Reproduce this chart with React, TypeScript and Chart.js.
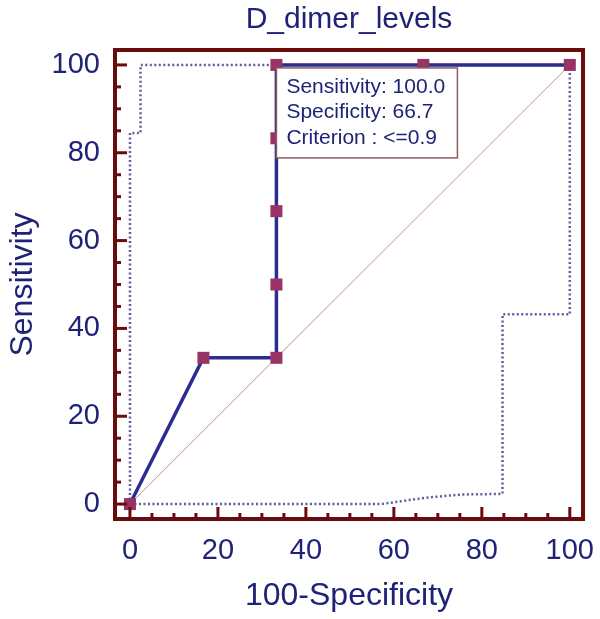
import React, { useEffect, useRef } from "react";
import { Chart, registerables } from "chart.js";

Chart.register(...registerables);

// ROC curve (100-Specificity, Sensitivity)
const rocX = [0, 16.7, 33.3, 33.3, 33.3, 33.3, 33.3, 66.7, 100];
const rocY = [0, 33.3, 33.3, 50, 66.7, 83.3, 100, 100, 100];
// diagonal reference
const diagX = [0, 100];
const diagY = [0, 100];
// confidence bounds
const upperX = [0, 0, 2.4, 2.4, 100];
const upperY = [0, 84.5, 84.5, 100, 100];
const lowerX = [0, 57, 60, 64, 68, 72, 76, 84.7, 84.7, 100, 100];
const lowerY = [0, 0, 0.4, 1.0, 1.5, 1.9, 2.2, 2.3, 43.2, 43.2, 100];
// axes
const tickValues = [0, 20, 40, 60, 80, 100];
const minorStep = 5;
const titleText = "D_dimer_levels";
const xTitle = "100-Specificity";
const yTitle = "Sensitivity";
const boxLines = ["Sensitivity: 100.0", "Specificity: 66.7", "Criterion : <=0.9"];
const criterionPoint = { x: 33.3, y: 100 };

const NAVY = "#1f2377";
const FRAME = "#6a0c0c";
const FONT = "'Liberation Sans', Arial, sans-serif";

const pts = (xs: number[], ys: number[]) => xs.map((x, i) => ({ x, y: ys[i] }));

const framePlugin = {
  id: "framePlugin",
  afterDatasetsDraw(chart: any) {
    const { ctx, chartArea, scales } = chart;
    const xs = scales.x;
    const ys = scales.y;
    ctx.save();
    // annotation box
    const bx = xs.getPixelForValue(criterionPoint.x);
    const by = ys.getPixelForValue(criterionPoint.y) + 3;
    const bw = 181;
    const bh = 90;
    ctx.fillStyle = "#ffffff";
    ctx.fillRect(bx, by, bw, bh);
    ctx.strokeStyle = "#8a5c5c";
    ctx.lineWidth = 1.5;
    ctx.strokeRect(bx, by, bw, bh);
    ctx.fillStyle = NAVY;
    ctx.font = `21px ${FONT}`;
    ctx.textBaseline = "middle";
    ctx.textAlign = "left";
    boxLines.forEach((t, i) => ctx.fillText(t, bx + 10, by + 19 + i * 25.5));

    // frame
    ctx.strokeStyle = FRAME;
    ctx.lineWidth = 4;
    ctx.strokeRect(chartArea.left, chartArea.top, chartArea.right - chartArea.left, chartArea.bottom - chartArea.top);
    // ticks
    ctx.lineWidth = 3;
    ctx.lineCap = "butt";
    for (let v = 0; v <= 100; v += minorStep) {
      const major = v % 20 === 0;
      const len = major ? 12 : 6;
      const px = xs.getPixelForValue(v);
      ctx.beginPath();
      ctx.moveTo(px, chartArea.bottom);
      ctx.lineTo(px, chartArea.bottom - len);
      ctx.stroke();
      const py = ys.getPixelForValue(v);
      ctx.beginPath();
      ctx.moveTo(chartArea.left, py);
      ctx.lineTo(chartArea.left + len, py);
      ctx.stroke();
    }
    // title
    ctx.fillStyle = NAVY;
    ctx.font = `30px ${FONT}`;
    ctx.textAlign = "center";
    ctx.textBaseline = "middle";
    ctx.fillText(titleText, (chartArea.left + chartArea.right) / 2, 20);
    ctx.restore();
  },
};

export default function App() {
  const ref = useRef<HTMLCanvasElement>(null);
  useEffect(() => {
    document.body.style.margin = "0";
    const canvas = ref.current!;
    const chart = new Chart(canvas, {
      type: "scatter",
      data: {
        datasets: [
          {
            data: pts(rocX, rocY),
            showLine: true,
            borderColor: "#2b2e8f",
            borderWidth: 3.5,
            pointStyle: "rect",
            pointRadius: 8.5,
            pointBackgroundColor: "#993366",
            pointBorderWidth: 0,
            order: 0,
          },
          {
            data: pts(diagX, diagY),
            showLine: true,
            borderColor: "#c48d8d",
            borderWidth: 1,
            pointRadius: 0,
            order: 3,
          },
          {
            data: pts(upperX, upperY),
            showLine: true,
            borderColor: "#5a5e9e",
            borderWidth: 2.5,
            borderDash: [2, 2.5],
            pointRadius: 0,
            order: 2,
          },
          {
            data: pts(lowerX, lowerY),
            showLine: true,
            borderColor: "#5a5e9e",
            borderWidth: 2.5,
            borderDash: [2, 2.5],
            pointRadius: 0,
            order: 2,
          },
        ],
      },
      options: {
        animation: false,
        responsive: false,
        layout: { padding: { top: 50, right: 17, left: 0, bottom: 0 } },
        plugins: { legend: { display: false }, tooltip: { enabled: false }, title: { display: false } },
        scales: {
          x: {
            type: "linear",
            min: -3.4,
            max: 103.0,
            grid: { display: false, drawTicks: false },
            border: { display: false },
            afterBuildTicks: (s: any) => {
              s.ticks = tickValues.map((v) => ({ value: v }));
            },
            afterFit: (s: any) => {
              s.height = 100;
              s.paddingLeft = 0;
              s.paddingRight = 0;
            },
            ticks: {
              color: NAVY,
              font: { family: FONT, size: 29 },
              padding: 15,
              maxRotation: 0,
              autoSkip: false,
            },
            title: {
              display: true,
              text: xTitle,
              color: NAVY,
              font: { family: FONT, size: 32 },
              padding: { top: 0, bottom: 4 },
            },
          },
          y: {
            type: "linear",
            min: -3.4,
            max: 103.4,
            grid: { display: false, drawTicks: false },
            border: { display: false },
            afterBuildTicks: (s: any) => {
              s.ticks = tickValues.map((v) => ({ value: v }));
            },
            afterFit: (s: any) => {
              s.width = 115;
              s.paddingTop = 0;
              s.paddingBottom = 0;
            },
            ticks: {
              color: NAVY,
              font: { family: FONT, size: 29 },
              padding: 15,
              autoSkip: false,
            },
            title: {
              display: true,
              text: yTitle,
              color: NAVY,
              font: { family: FONT, size: 32 },
              padding: { top: 4, bottom: 0 },
            },
          },
        },
      },
      plugins: [framePlugin],
    });
    return () => chart.destroy();
  }, []);
  return <canvas ref={ref} width={600} height={619} style={{ display: "block" }} />;
}
